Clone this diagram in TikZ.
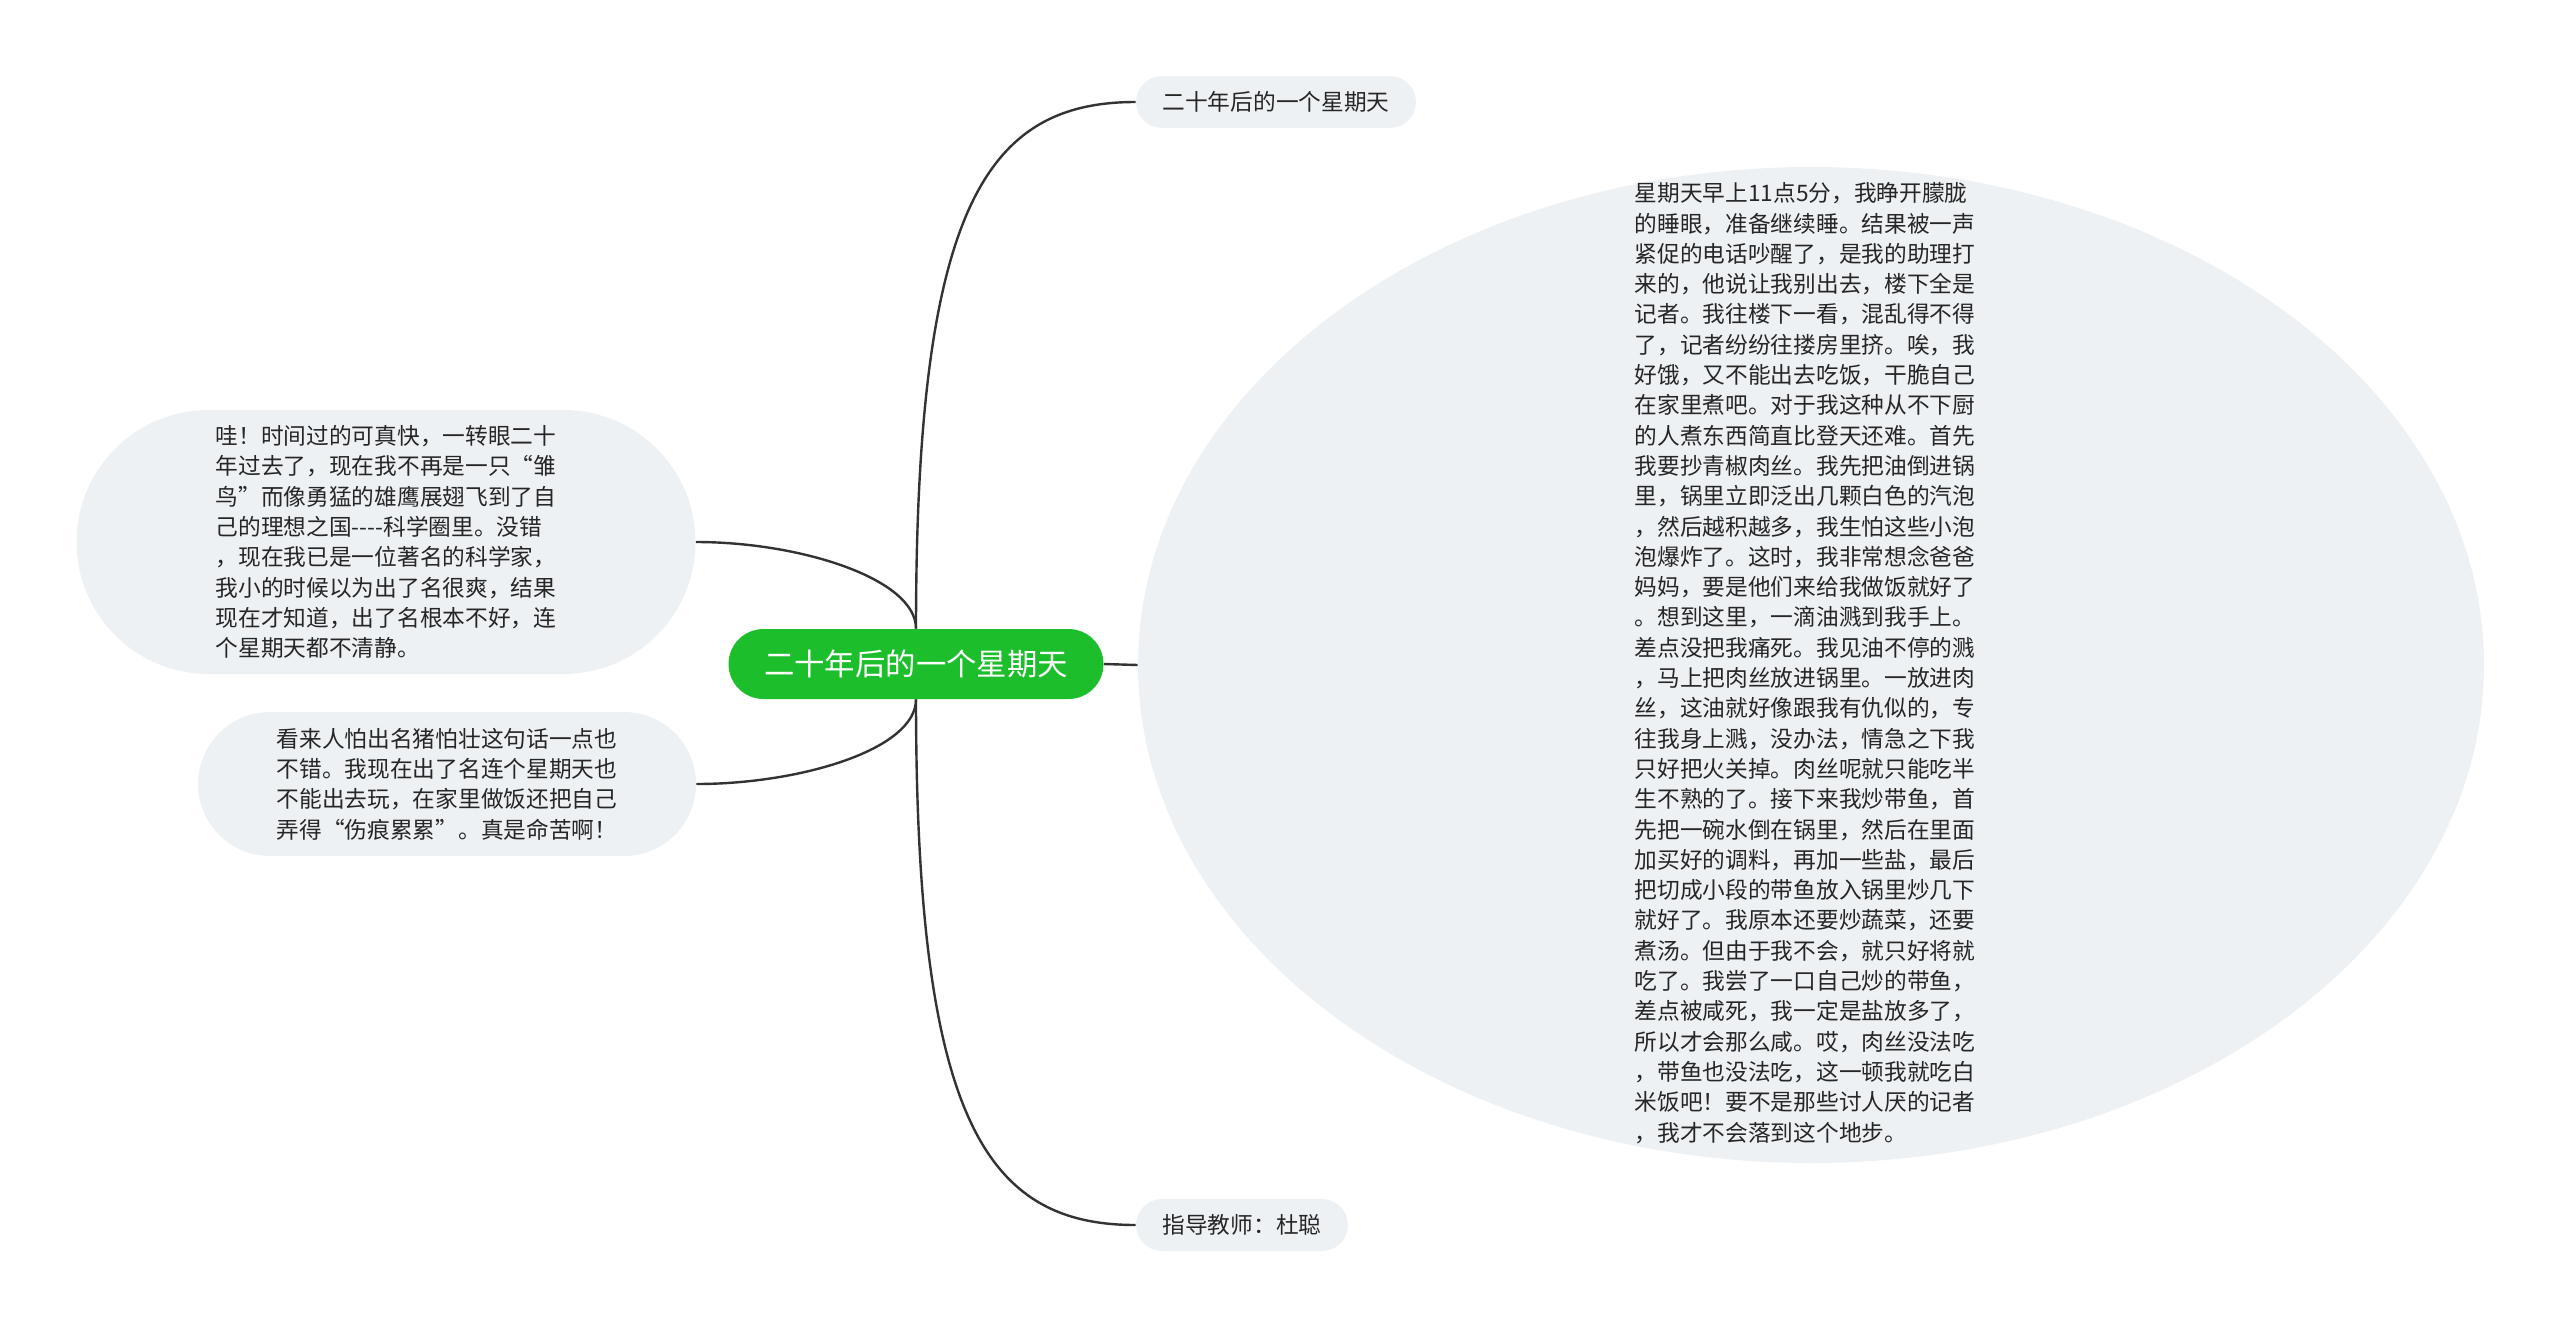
\documentclass[tikz,border=0pt]{standalone}
\usepackage{fontspec}
\setmainfont{Noto Sans CJK SC}
\usepackage{tikz}
\usetikzlibrary{shapes.geometric, positioning}
\definecolor{rootGreen}{HTML}{1CBF2B}
\definecolor{leafGray}{HTML}{EEF1F4}
\definecolor{linkGray}{HTML}{333333}
\definecolor{textGray}{HTML}{262626}

\begin{document}
\begin{tikzpicture}[x=0.5pt, y=-0.5pt,
      root/.style={fill=rootGreen, text=white, minimum width=187.5pt, minimum height=35pt,
        rounded corners=17.5pt, inner sep=0pt, font=\fontsize{15.2pt}{18pt}\selectfont},
      leaf/.style={fill=leafGray, text=textGray, inner sep=0pt, align=left,
        font=\fontsize{11.35pt}{15.15pt}\selectfont},
      pill/.style={leaf, minimum height=26pt, rounded corners=13pt},
      link/.style={draw=linkGray, line width=1.2pt}]
    \useasboundingbox (0,0) rectangle (2560,1328);
    % centre and the five branches
    \node[root] (root) at (916,664) {二十年后的一个星期天};
    \node[pill, minimum width=140pt] (title) at (1276,102) {二十年后的一个星期天};
    \node[pill, minimum width=106pt] (teacher) at (1242,1225) {指导教师：杜聪};
    \node[leaf, minimum width=309.5pt, minimum height=132pt, rounded corners=66pt]
      (wow) at (386,542) {哇！时间过的可真快，一转眼二十\\
      年过去了，现在我不再是一只“雏\\
      鸟”而像勇猛的雄鹰展翅飞到了自\\
      己的理想之国-{}-{}-{}-科学圈里。没错\\
      ，现在我已是一位著名的科学家，\\
      我小的时候以为出了名很爽，结果\\
      现在才知道，出了名根本不好，连\\
      个星期天都不清静。};
    \node[leaf, minimum width=249pt, minimum height=72pt, rounded corners=36pt]
      (fame) at (447,784) {看来人怕出名猪怕壮这句话一点也\\
      不错。我现在出了名连个星期天也\\
      不能出去玩，在家里做饭还把自己\\
      弄得“伤痕累累”。真是命苦啊！};
    \node[ellipse, fill=leafGray, minimum width=673pt, minimum height=498pt, inner sep=0pt]
      (story) at (1811,665) {};
    \node[leaf, fill=none] (storytext) at (1805,663) {星期天早上11点5分，我睁开朦胧\\
      的睡眼，准备继续睡。结果被一声\\
      紧促的电话吵醒了，是我的助理打\\
      来的，他说让我别出去，楼下全是\\
      记者。我往楼下一看，混乱得不得\\
      了，记者纷纷往搂房里挤。唉，我\\
      好饿，又不能出去吃饭，干脆自己\\
      在家里煮吧。对于我这种从不下厨\\
      的人煮东西简直比登天还难。首先\\
      我要抄青椒肉丝。我先把油倒进锅\\
      里，锅里立即泛出几颗白色的汽泡\\
      ，然后越积越多，我生怕这些小泡\\
      泡爆炸了。这时，我非常想念爸爸\\
      妈妈，要是他们来给我做饭就好了\\
      。想到这里，一滴油溅到我手上。\\
      差点没把我痛死。我见油不停的溅\\
      ，马上把肉丝放进锅里。一放进肉\\
      丝，这油就好像跟我有仇似的，专\\
      往我身上溅，没办法，情急之下我\\
      只好把火关掉。肉丝呢就只能吃半\\
      生不熟的了。接下来我炒带鱼，首\\
      先把一碗水倒在锅里，然后在里面\\
      加买好的调料，再加一些盐，最后\\
      把切成小段的带鱼放入锅里炒几下\\
      就好了。我原本还要炒蔬菜，还要\\
      煮汤。但由于我不会，就只好将就\\
      吃了。我尝了一口自己炒的带鱼，\\
      差点被咸死，我一定是盐放多了，\\
      所以才会那么咸。哎，肉丝没法吃\\
      ，带鱼也没法吃，这一顿我就吃白\\
      米饭吧！要不是那些讨人厌的记者\\
      ，我才不会落到这个地步。};
    % connectors
    \draw[link] (root.north) .. controls +(0,-420) and +(-150,0) .. (title.west);
    \draw[link] (root.south) .. controls +(0,420) and +(-150,0) .. (teacher.west);
    \draw[link] (root.north) .. controls +(0,-50) and +(104,0) .. (wow.east);
    \draw[link] (root.south) .. controls +(0,50) and +(104,0) .. (fame.east);
    \draw[link] (root.east) -- (story.west);
  \end{tikzpicture}
\end{document}
